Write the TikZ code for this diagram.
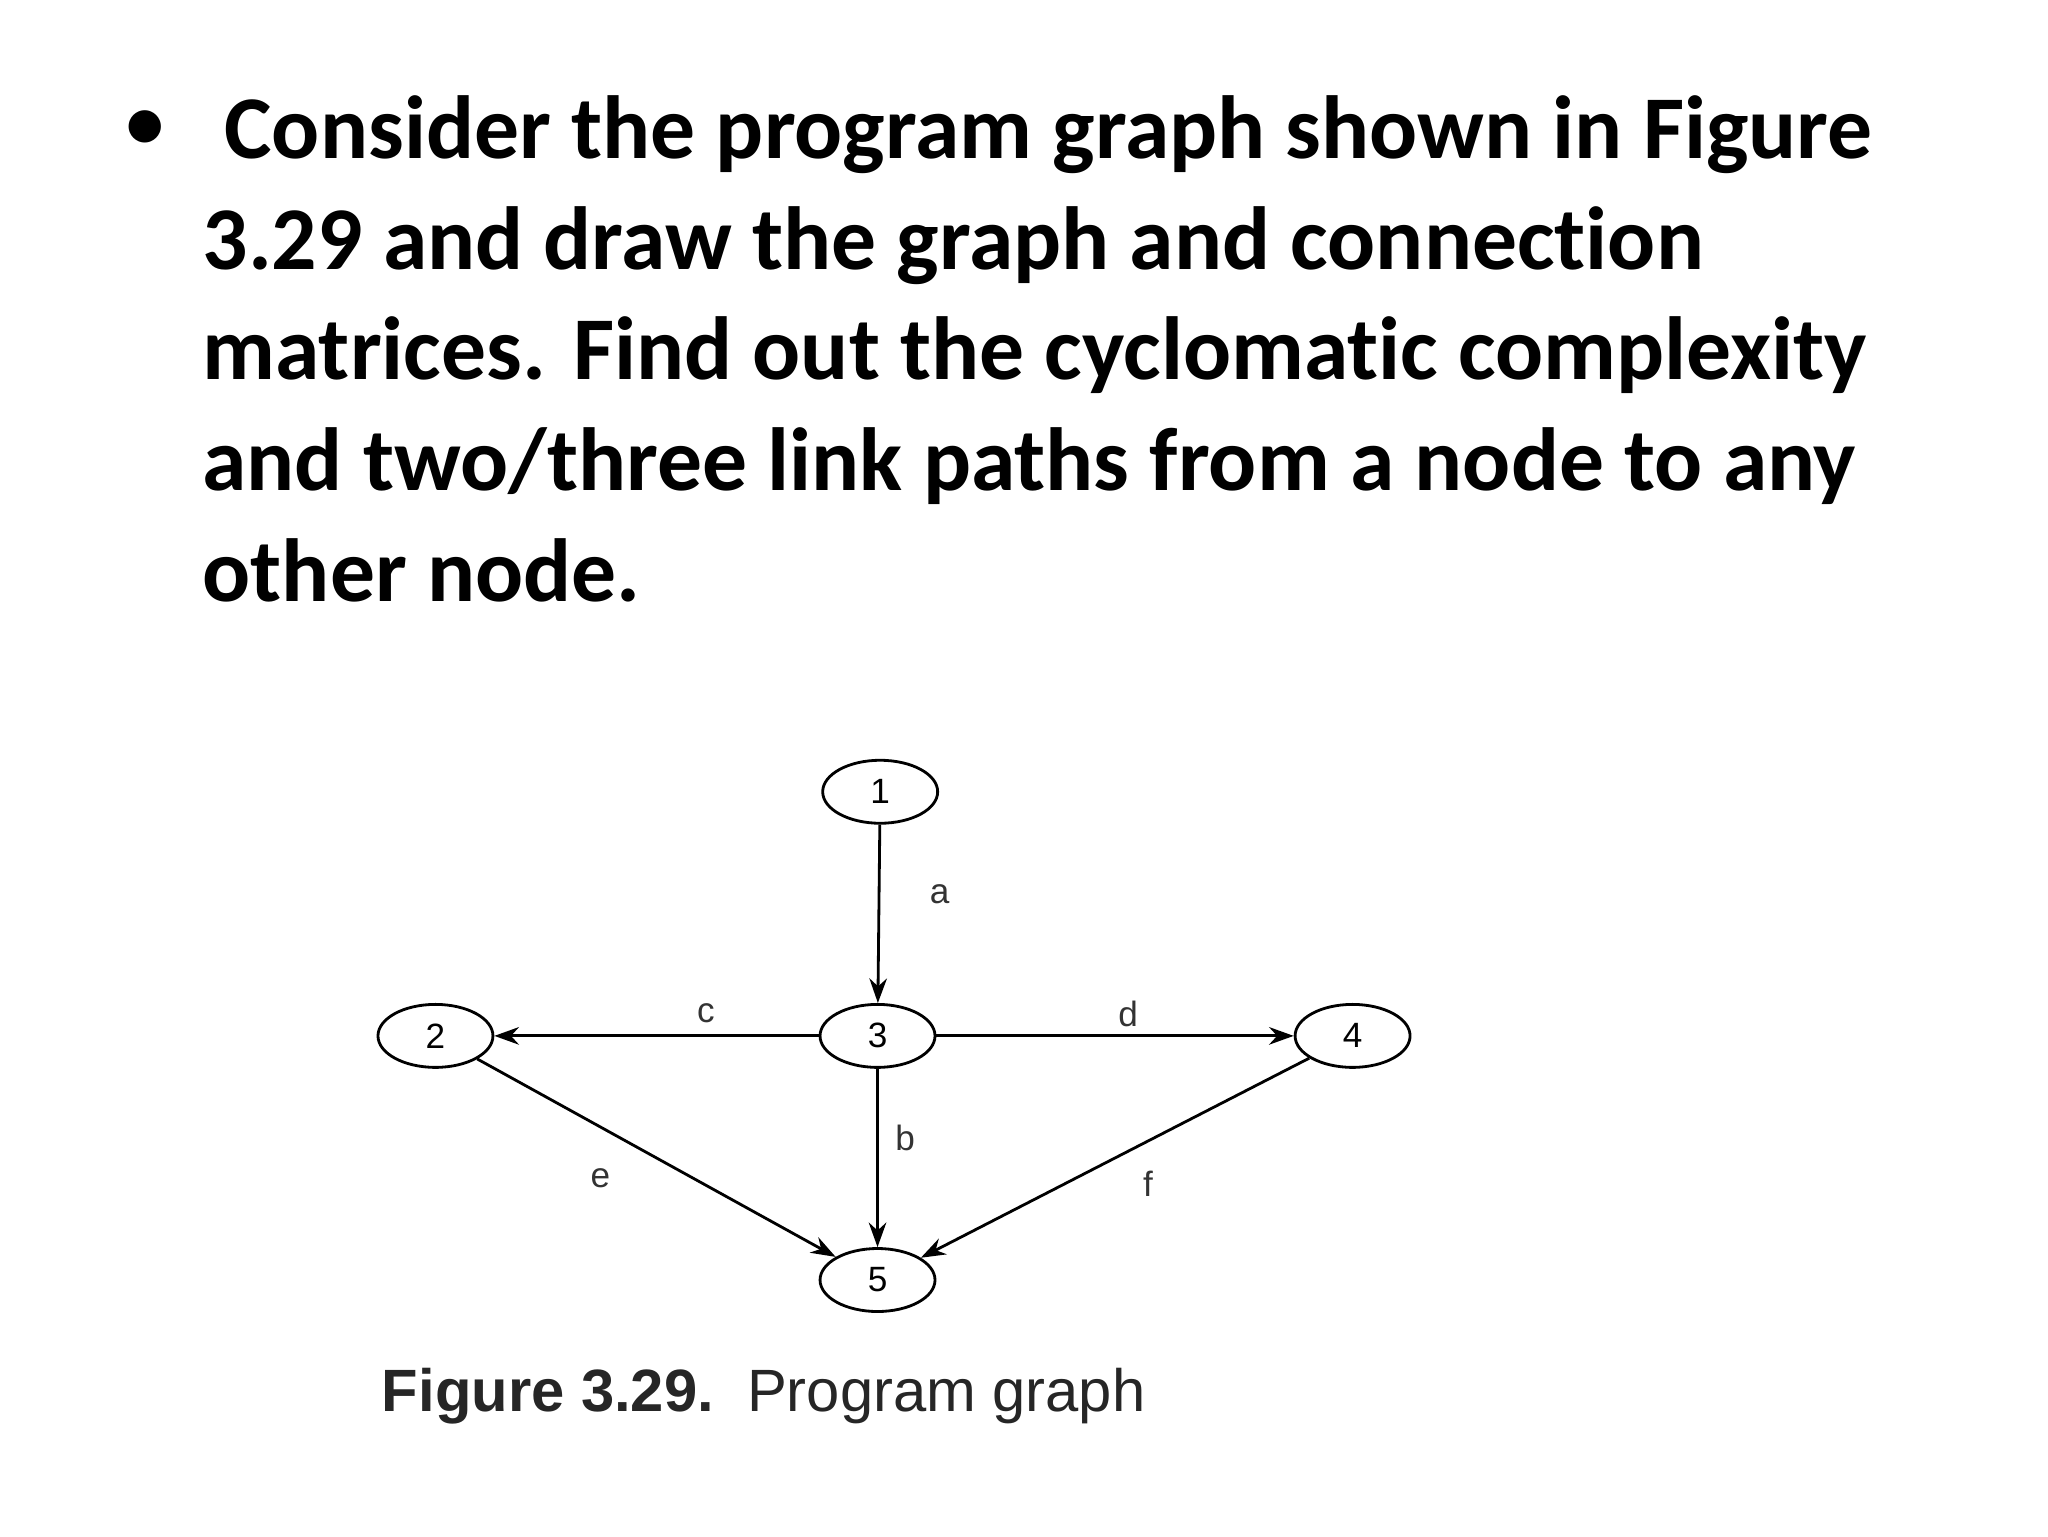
\documentclass[tikz,border=0pt]{standalone}
\usepackage{fontspec}
\setmainfont[Ligatures=NoCommon]{Carlito}
\newfontfamily\arialf{Liberation Sans}
\usetikzlibrary{shapes.geometric,arrows.meta}
\begin{document}
\begin{tikzpicture}[x=0.013196cm,y=-0.013196cm,
  gnode/.style={draw,ellipse,minimum width=1.15cm,minimum height=0.63cm,inner sep=0pt,font=\arialf\normalsize,line width=0.8pt},
  edge/.style={-{Stealth[length=7pt,width=5pt]},line width=0.8pt},
  elab/.style={font=\arialf\normalsize,text=black!80}]
\useasboundingbox (0,0) rectangle (1552,1164);
\node[anchor=center,font=\fontsize{26}{30}\selectfont] (bul) at (110,100) {•};
\node[anchor=north west,align=left,inner sep=0pt,font=\fontsize{25.5}{31.5}\selectfont\bfseries] (txt) at (153,72)
 {\hspace*{0.22cm}Consider the program graph shown in Figure\\
 3.29 and draw the graph and connection\\
 matrices. Find out the cyclomatic complexity\\
 and two/three link paths from a node to any\\
 other node.};
\node[gnode] (n1) at (667,600) {1};
\node[gnode] (n2) at (330,785) {2};
\node[gnode] (n3) at (665,785) {3};
\node[gnode] (n4) at (1025,785) {4};
\node[gnode] (n5) at (665,970) {5};
\draw[edge] (n1) -- (n3);
\draw[edge] (n3) -- (n2);
\draw[edge] (n3) -- (n4);
\draw[edge] (n3) -- (n5);
\draw[edge] (n2) -- (n5);
\draw[edge] (n4) -- (n5);
\node[elab] (la) at (712,678) {a};
\node[elab] (lc) at (535,768) {c};
\node[elab] (ld) at (855,768) {d};
\node[elab] (lb) at (686,862) {b};
\node[elab] (le) at (455,893) {e};
\node[elab] (lf) at (870,897) {f};
\node[anchor=west,font=\arialf\fontsize{17}{20}\selectfont,text=black!85] (cap) at (280,1058) {\textbf{Figure 3.29.}\ \ Program graph};
\end{tikzpicture}
\end{document}
